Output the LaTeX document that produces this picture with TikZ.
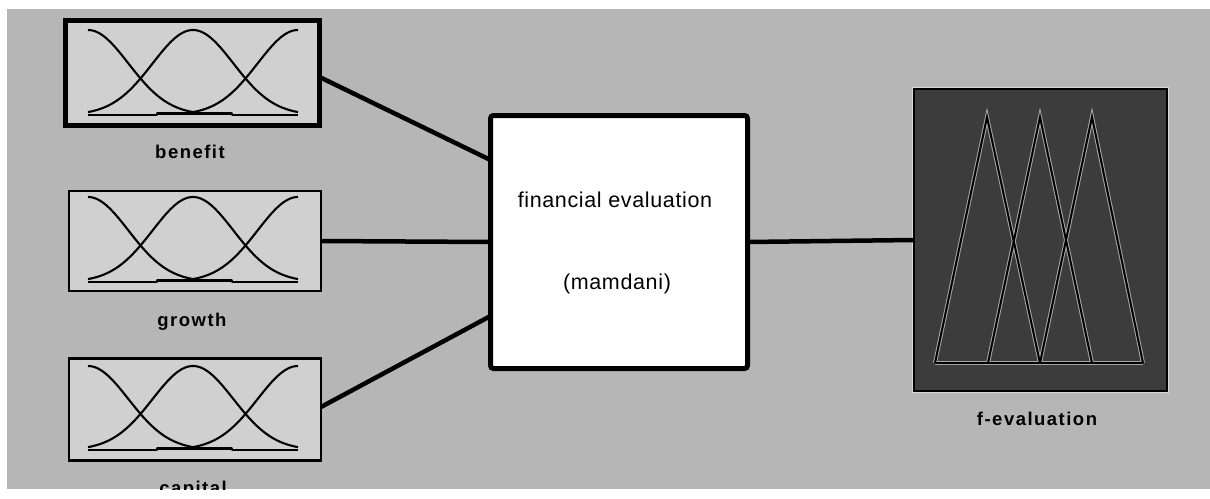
\documentclass[tikz,border=0pt]{standalone}
\usepackage{fontspec}
\setmainfont{Liberation Sans}
\newfontfamily\labelfont[LetterSpace=8]{Liberation Sans}
\newfontfamily\titlefont[LetterSpace=3]{Liberation Sans}
\usetikzlibrary{calc}

\definecolor{panelgray}{HTML}{B6B6B6}
\definecolor{inputfill}{HTML}{D0D0D0}
\definecolor{outputfill}{HTML}{3C3C3C}
\definecolor{halo}{HTML}{A8A8A8}

\tikzset{
  varbox/.style={draw=black, fill=inputfill, line width=2.5pt, inner sep=0pt, outer sep=0pt},
  selbox/.style={varbox, line width=5pt},
  fisbox/.style={draw=black, fill=white, line width=5pt, rounded corners=3pt, inner sep=0pt, outer sep=0pt},
  outbox/.style={draw=black, fill=outputfill, line width=2pt, inner sep=0pt, outer sep=0pt},
  link/.style={draw=black, line width=4.5pt},
  mfline/.style={draw=black, line width=2.1pt, line join=round},
  trihalo/.style={draw=halo, line width=4pt, line join=miter},
  tricore/.style={draw=black, line width=2pt, line join=miter},
  varlabel/.style={inner sep=0pt, anchor=base, font=\labelfont\bfseries\fontsize{18.5}{22}\selectfont},
  fistext/.style={inner sep=0pt, anchor=base, font=\titlefont\fontsize{21.5}{24}\selectfont}
}

% three gaussian membership functions: #1 = left x, #2 = peak y, #3 = base y
\newcommand{\drawmf}[3]{%
  \draw[mfline] plot[domain=0:110, samples=60, smooth]
    ({#1+\x}, {#3-(#3-#2)*exp(-0.5*((\x)/40.4)^2)});
  \draw[mfline] plot[domain=0:210, samples=90, smooth]
    ({#1+\x}, {#3-(#3-#2)*exp(-0.5*((\x-105)/40.4)^2)});
  \draw[mfline] plot[domain=100:210, samples=60, smooth]
    ({#1+\x}, {#3-(#3-#2)*exp(-0.5*((\x-210)/40.4)^2)});
  \draw[mfline] (#1,#3) -- ++(69,0) -- ++(0,-1.5) -- ++(75,0) -- ++(0,1.5) -- (#1+210,#3);
}

\begin{document}
\begin{tikzpicture}[x=1pt, y=-1pt]
  \useasboundingbox (0,0) rectangle (1210,498);
  \fill[white] (0,0) rectangle (1210,498);

  \begin{scope}
    \clip (7,9) rectangle (1210,489);
    \fill[panelgray] (7,9) rectangle (1210,489);

    % input variables
    \node[selbox, minimum width=254pt, minimum height=105pt] (benefit) at (192.5,73) {};
    \node[varbox, minimum width=252pt, minimum height=100pt] (growth) at (195,241) {};
    \node[varbox, minimum width=252pt, minimum height=102pt] (capital) at (195,409.5) {};

    \drawmf{88}{30}{115}
    \drawmf{88}{197}{282}
    \drawmf{88}{366}{450}

    \node[varlabel] (benefitlbl) at (190,158) {benefit};
    \node[varlabel] (growthlbl) at (192,326) {growth};
    \node[varlabel] (capitallbl) at (193,494) {capital};

    % inference system
    \node[fisbox, minimum width=257pt, minimum height=253pt] (fis) at (619,242) {};
    \node[fistext] (fisname) at (615,207) {financial evaluation};
    \node[fistext] (fistype) at (617,289) {(mamdani)};

    % output variable
    \node[outbox, minimum width=253pt, minimum height=302pt] (fevaluation) at (1040.5,240) {};
    \draw[white!85!black, line width=0.8pt] (fevaluation.south west) ++(-1.4,1.4) rectangle ($(fevaluation.north east)+(1.4,-1.4)$);

    \foreach \sty in {trihalo, tricore} {
      \draw[\sty] (935,363) -- (987,117) -- (1040,363);
      \draw[\sty] (988,363) -- (1040,117) -- (1092,363);
      \draw[\sty] (1040,363) -- (1092,117) -- (1143,363);
      \draw[\sty] (935,363) -- (1143,363);
    }
    \node[varlabel] (fevallbl) at (1037,425) {f-evaluation};

    % connections
    \coordinate (fisin1) at ($(fis.west)+(0,-82)$);
    \coordinate (fisin3) at ($(fis.west)+(0,74)$);
    \draw[link] ($(benefit.east)+(0,4)$) -- (fisin1);
    \draw[link] (growth.east) -- (fis.west);
    \draw[link] ($(capital.east)+(0,-2.5)$) -- (fisin3);
    \draw[link] (fis.east) -- (fevaluation.west);
  \end{scope}
\end{tikzpicture}
\end{document}
